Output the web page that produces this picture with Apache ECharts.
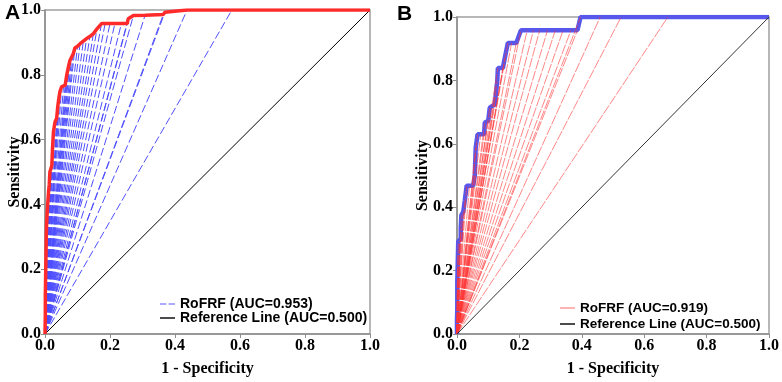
<!DOCTYPE html>
<html>
<head>
<meta charset="utf-8">
<script src="https://cdn.jsdelivr.net/npm/echarts@6.0.0/dist/echarts.min.js"></script>
<style>
  html, body { margin: 0; padding: 0; background: #fff; }
  #chart { width: 782px; height: 382px; }
</style>
</head>
<body>
<div id="chart"></div>
<script>
// ROC points (1 - specificity, sensitivity)
const fprA = [0.000, 0.001, 0.001, 0.002, 0.003, 0.004, 0.005, 0.007, 0.009, 0.011, 0.013, 0.015, 0.018, 0.021,
  0.023, 0.026, 0.031, 0.036, 0.039, 0.043, 0.046, 0.051, 0.057, 0.062, 0.067, 0.072, 0.077, 0.082, 0.087,
  0.092, 0.100, 0.108, 0.118, 0.128, 0.138, 0.149, 0.160, 0.174, 0.185, 0.200, 0.215, 0.235, 0.253, 0.256,
  0.272, 0.308, 0.364, 0.369, 0.437, 0.575, 1.000];
const tprA = [0.000, 0.060, 0.120, 0.180, 0.240, 0.300, 0.340, 0.380, 0.410, 0.440, 0.460, 0.500, 0.510, 0.520,
  0.570, 0.625, 0.655, 0.666, 0.700, 0.730, 0.748, 0.763, 0.765, 0.768, 0.800, 0.824, 0.845, 0.855, 0.865,
  0.883, 0.888, 0.896, 0.904, 0.912, 0.918, 0.927, 0.942, 0.958, 0.958, 0.958, 0.958, 0.958, 0.958, 0.973,
  0.983, 0.984, 0.986, 0.993, 1.000, 1.000, 1.000];

const fprB = [0.000, 0.000, 0.001, 0.001, 0.001, 0.002, 0.003, 0.004, 0.008, 0.012, 0.012, 0.014, 0.020, 0.025,
  0.031, 0.040, 0.052, 0.057, 0.060, 0.066, 0.076, 0.087, 0.089, 0.100, 0.105, 0.121, 0.125, 0.129, 0.131,
  0.147, 0.153, 0.163, 0.175, 0.190, 0.205, 0.225, 0.245, 0.265, 0.290, 0.315, 0.340, 0.365, 0.386, 0.396,
  0.459, 0.526, 0.676, 1.000];
const tprB = [0.000, 0.042, 0.083, 0.125, 0.167, 0.208, 0.250, 0.292, 0.292, 0.300, 0.333, 0.375, 0.385, 0.421,
  0.468, 0.468, 0.468, 0.500, 0.588, 0.630, 0.630, 0.630, 0.667, 0.672, 0.714, 0.724, 0.760, 0.797, 0.839,
  0.839, 0.870, 0.918, 0.918, 0.918, 0.958, 0.958, 0.958, 0.958, 0.958, 0.958, 0.958, 0.958, 0.958, 1.000,
  1.000, 1.000, 1.000, 1.000];

const refLine = [[0, 0], [1, 1]];
const tickLabels = ['0.0', '0.2', '0.4', '0.6', '0.8', '1.0'];
const legendA = ['RoFRF (AUC=0.953)', 'Reference Line (AUC=0.500)'];
const legendB = ['RoFRF (AUC=0.919)', 'Reference Line (AUC=0.500)'];

// curve points as pairs
function pairs(xs, ys) {
  return xs.map((x, i) => [x, ys[i]]);
}
// one segment from the origin to every curve point, split by gaps
function fan(xs, ys) {
  const out = [];
  for (let i = 1; i < xs.length - 1; i++) {
    out.push([0, 0], [xs[i], ys[i]], null);
  }
  return out;
}

const serif = 'Liberation Serif';
const sans = 'Liberation Sans';
const axisGray = '#8e8e8e';
const dashIcon = 'path://M0,0h6v1h-6zM8,0h6v1h-6z';

function xAx(idx) {
  return {
    type: 'value', gridIndex: idx, min: 0, max: 1, interval: 0.2,
    name: '1 - Specificity', nameLocation: 'middle', nameGap: 27, nameMoveOverlap: false,
    nameTextStyle: { fontFamily: serif, fontWeight: 'bold', fontSize: 16, color: '#000' },
    axisLine: { lineStyle: { color: axisGray, width: 1.5 } },
    axisTick: { length: 4, lineStyle: { color: axisGray } },
    axisLabel: { margin: 4, fontFamily: serif, fontWeight: 'bold', fontSize: 16, color: '#000',
      formatter: v => tickLabels[Math.round(v * 5)] },
    splitLine: { show: false }
  };
}
function yAx(idx, gap) {
  return {
    type: 'value', gridIndex: idx, min: 0, max: 1, interval: 0.2,
    name: 'Sensitivity', nameLocation: 'middle', nameGap: gap, nameMoveOverlap: false,
    nameTextStyle: { fontFamily: serif, fontWeight: 'bold', fontSize: 16, color: '#000' },
    axisLine: { lineStyle: { color: axisGray, width: 1.5 } },
    axisTick: { length: 4, lineStyle: { color: axisGray } },
    axisLabel: { margin: 4, fontFamily: serif, fontWeight: 'bold', fontSize: 16, color: '#000',
      formatter: v => tickLabels[Math.round(v * 5)] },
    splitLine: { show: false }
  };
}

const chart = echarts.init(document.getElementById('chart'));
chart.setOption({
  animation: false,
  backgroundColor: '#fff',
  title: [
    { text: 'A', left: 0, top: -2, textStyle: { fontFamily: sans, fontWeight: 'bold', fontSize: 21, color: '#000' } },
    { text: 'B', left: 392, top: -1, textStyle: { fontFamily: sans, fontWeight: 'bold', fontSize: 21, color: '#000' } }
  ],
  grid: [
    { left: 45, top: 10, width: 325, height: 325, show: true, borderColor: '#a0a0a0', borderWidth: 1.5 },
    { left: 457, top: 17, width: 315, height: 319, show: true, borderColor: '#a0a0a0', borderWidth: 1.5 }
  ],
  xAxis: [xAx(0), xAx(1)],
  yAxis: [yAx(0, 22), yAx(1, 26)],
  legend: [
    { data: [{ name: legendA[0], icon: dashIcon }, { name: legendA[1], icon: 'rect' }],
      orient: 'vertical', left: 160, top: 297, padding: 0, itemWidth: 15, itemHeight: 1.5, itemGap: 0,
      textStyle: { fontFamily: sans, fontWeight: 'bold', fontSize: 14, color: '#000', lineHeight: 12.5 } },
    { data: [{ name: legendB[0], icon: 'rect' }, { name: legendB[1], icon: 'rect' }],
      orient: 'vertical', left: 560, top: 301, padding: 0, itemWidth: 15, itemHeight: 1.5, itemGap: 2,
      textStyle: { fontFamily: sans, fontWeight: 'bold', fontSize: 13.5, color: '#000', lineHeight: 13 } }
  ],
  series: [
    // panel A
    { name: legendA[0], type: 'line', xAxisIndex: 0, yAxisIndex: 0, data: fan(fprA, tprA),
      symbol: 'none', lineStyle: { color: '#4f4fff', width: 1, type: [8, 3] }, itemStyle: { color: '#5a5aff' }, z: 2 },
    { name: legendA[1], type: 'line', xAxisIndex: 0, yAxisIndex: 0, data: refLine,
      symbol: 'none', lineStyle: { color: '#000', width: 1 }, itemStyle: { color: '#111' }, z: 2 },
    { name: 'curveA', type: 'line', xAxisIndex: 0, yAxisIndex: 0, data: pairs(fprA, tprA),
      symbol: 'none', lineStyle: { color: '#ff2b2b', width: 3.5 }, z: 3 },
    // panel B
    { name: 'curveB', type: 'line', xAxisIndex: 1, yAxisIndex: 1, data: pairs(fprB, tprB),
      symbol: 'none', lineStyle: { color: '#5757ec', width: 4.5 }, z: 2 },
    { name: legendB[0], type: 'line', xAxisIndex: 1, yAxisIndex: 1, data: fan(fprB, tprB),
      symbol: 'none', lineStyle: { color: 'rgba(255,55,55,0.6)', width: 1, type: [10, 1.5] },
      itemStyle: { color: '#ff9a9a' }, z: 3 },
    { name: legendB[1], type: 'line', xAxisIndex: 1, yAxisIndex: 1, data: refLine,
      symbol: 'none', lineStyle: { color: '#333', width: 1 }, itemStyle: { color: '#777' }, z: 3 }
  ]
});
</script>
</body>
</html>
